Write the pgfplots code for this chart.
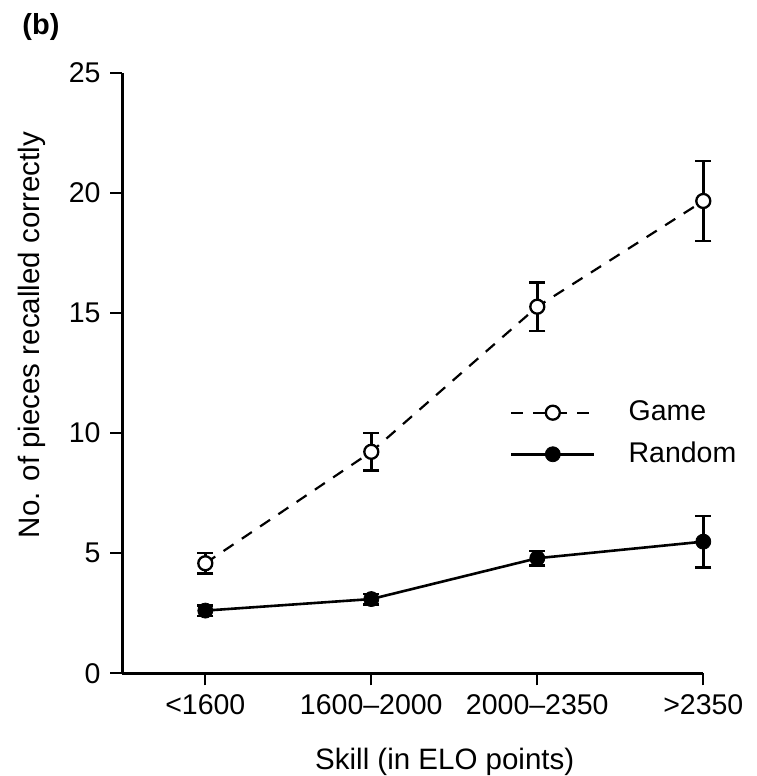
\documentclass[border=0pt]{standalone}
\usepackage{fontspec}
\setmainfont{Liberation Sans}
\usepackage{pgfplots}
\pgfplotsset{compat=1.18}
\begin{document}
\fontsize{28.5}{34}\selectfont
\begin{tikzpicture}
\useasboundingbox (0,0) rectangle (756pt,776pt);
\node[font=\fontsize{29}{34}\selectfont\bfseries] at (41pt,749pt) {(b)};
\begin{axis}[
  at={(122.3pt,102.7pt)}, anchor=south west,
  scale only axis, width=581pt, height=600.6pt,
  xmin=-0.5, xmax=3, ymin=0, ymax=25,
  clip=false,
  axis x line*=bottom, axis y line*=left,
  axis line style={line width=2.6pt, black},
  xtick={0,1,2,3},
  xticklabels={<1600, 1600–2000, 2000–2350, >2350},
  ytick={0,5,10,15,20,25},
  tick align=outside,
  major tick length=12pt,
  tick style={line width=1.8pt, black},
  /pgf/number format/assume math mode=true,
  tick label style={font=\fontsize{28.5}{34}\selectfont},
  label style={font=\fontsize{29.5}{34}\selectfont},
  xlabel={Skill (in ELO points)},
  ylabel={No. of pieces recalled correctly},
  xlabel style={at={(axis description cs:0.555,-0.147)}, anchor=center},
  ylabel style={at={(axis description cs:-0.155,0.563)}, anchor=center},
  legend style={at={(axis description cs:0.667,0.399)}, anchor=west,
    draw=none, fill=none, inner sep=0pt, row sep=13pt,
    font=\fontsize{28.5}{34}\selectfont,
    /tikz/every odd column/.append style={column sep=31pt}},
  legend cell align=left,
  legend image code/.code={\draw[mark repeat=2,mark phase=2,#1] plot coordinates {(0pt,0pt) (41.5pt,0pt) (83pt,0pt)};},
]
\addplot[black, line width=2.2pt, dash pattern=on 12pt off 10pt,
  mark=*, mark size=7pt, mark options={solid, fill=white, line width=2.3pt},
  error bars/.cd, y dir=both, y explicit,
  error bar style={line width=2.4pt, solid},
  error mark options={rotate=90, mark size=8pt, line width=2.4pt, solid}]
  coordinates {
  (0,4.58) +- (0,0.42)
  (1,9.22) +- (0,0.78)
  (2,15.26) +- (0,1.0)
  (3,19.66) +- (0,1.67)
  };
\addlegendentry{Game}
\addplot[black, line width=2.6pt,
  mark=*, mark size=7.5pt, mark options={solid, fill=black, line width=0.8pt},
  error bars/.cd, y dir=both, y explicit,
  error bar style={line width=2.4pt, solid},
  error mark options={rotate=90, mark size=8pt, line width=2.4pt, solid}]
  coordinates {
  (0,2.61) +- (0,0.22)
  (1,3.09) +- (0,0.22)
  (2,4.79) +- (0,0.3)
  (3,5.48) +- (0,1.07)
  };
\addlegendentry{Random}
\end{axis}
\end{tikzpicture}
\end{document}
